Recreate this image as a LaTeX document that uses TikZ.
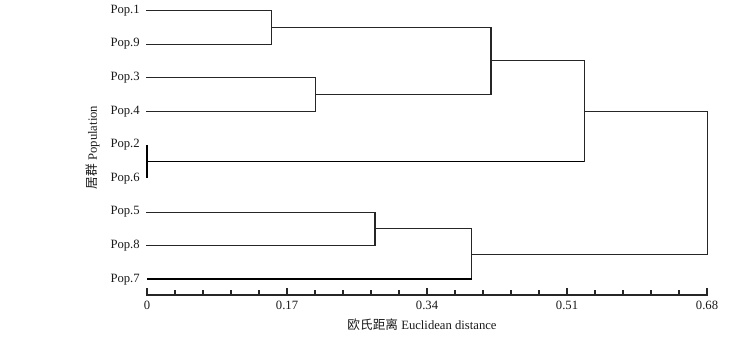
\documentclass[tikz,border=0pt]{standalone}
\usepackage{fontspec}
\setmainfont{Liberation Serif}
\newfontfamily\cjk{Noto Sans CJK SC}
\begin{document}
\begin{tikzpicture}[x=0.75pt,y=-0.75pt,
  branch/.style={line width=0.8pt, draw=black!85, line cap=rect},
  heavy/.style={line width=1.6pt, draw=black},
  lbl/.style={font=\fontsize{9.5}{11}\selectfont, inner sep=0pt, text=black!90},
  axislbl/.style={font=\fontsize{9.5}{11}\selectfont, inner sep=0pt, text=black!90}]
\useasboundingbox (0,0) rectangle (745,341);
% leaves
\foreach \n/\y in {1/10.5, 9/44.1, 3/77.7, 4/111.3, 2/144.9, 6/178.5, 5/212.1, 8/245.7, 7/279.3}{
  \coordinate (L\n) at (147,\y);
  \node[lbl, anchor=east] (t\n) at (140,\y) {Pop.\n};
}
% junctions
\coordinate (A) at (271.7,27.3);
\coordinate (B) at (315.3,94.5);
\coordinate (C) at (491,60.9);
\coordinate (D) at (147,161.7);
\coordinate (E) at (584.7,111.3);
\coordinate (F) at (375,228.9);
\coordinate (G) at (471.7,254.1);
\coordinate (H) at (707.7,182.7);
% tree
\draw[branch] (L1) -| (A) |- (L9);
\draw[branch] (L3) -| (B) |- (L4);
\draw[branch] (A) -| (C) |- (B);
\draw[line width=1.3pt, draw=black] (L2) -- (L6);
\draw[line width=1.1pt, draw=black] (D) -- (D -| E);
\draw[branch] (C) -| (E) -- (E |- D);
\draw[branch] (L5) -| (F) |- (L8);
\draw[branch] (F) -| (G) -- (G |- L7);
\draw[heavy] (L7) -- (G |- L7);
\draw[branch] (E) -| (H) |- (G);
% axis
\coordinate (ax0) at (147,295);
\coordinate (ax1) at (707,295);
\draw[branch] (ax0) -- (ax1);
\foreach \i in {0,...,20}{
  \pgfmathsetmacro{\xx}{147+28*\i}
  \pgfmathtruncatemacro{\m}{mod(\i,5)}
  \ifnum\m=0
    \draw[branch] (\xx,295) -- (\xx,288.5);
  \else
    \draw[branch] (\xx,295) -- (\xx,291);
  \fi
}
\foreach \v/\x in {0/147, 0.17/287, 0.34/427, 0.51/567, 0.68/707}{
  \node[axislbl, anchor=base] (x\x) at (\x,309.5) {\v};
}
\node[axislbl, anchor=base] (xtitle) at (422,329.5) {{\cjk 欧氏距离} Euclidean distance};
\node[axislbl, rotate=90] (ytitle) at (93,147.5) {{\cjk 居群} Population};
\end{tikzpicture}
\end{document}
